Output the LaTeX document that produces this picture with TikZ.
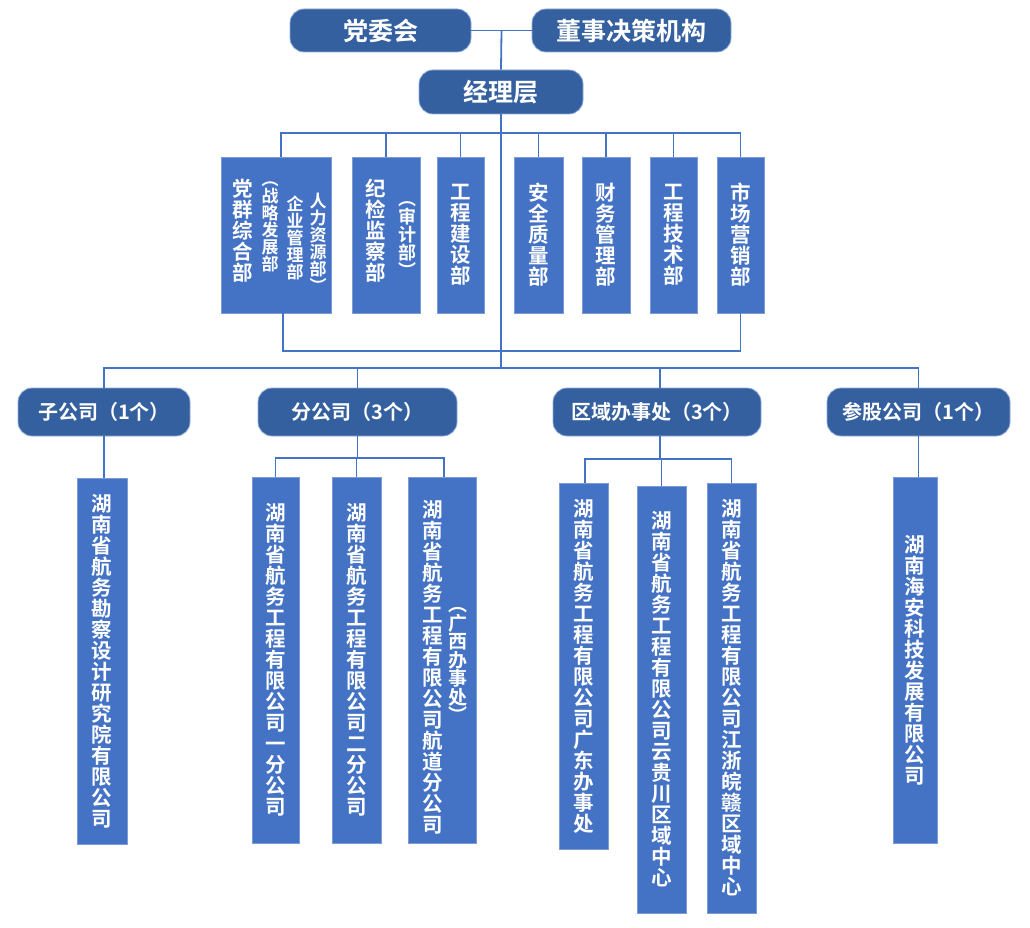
\documentclass[tikz,border=0pt]{standalone}
\usepackage{fontspec}
\setmainfont{Noto Sans CJK SC}[BoldFont={Noto Sans CJK SC Bold}]
\usetikzlibrary{positioning,calc}
\definecolor{navy}{HTML}{35609F}
\definecolor{boxblue}{HTML}{4472C4}

% one character per line, #1 size, #2 pitch
\makeatletter
\newcommand\vcol[3]{\vbox{\fontsize{#1}{#2}\selectfont\baselineskip=#2pt\lineskiplimit=-100pt\lineskip=0pt%
  \@tfor\vch:=#3\do{\hbox to #1pt{\hss\vch\hss}}}}
\makeatother

\begin{document}
\begin{tikzpicture}[x=1pt,y=1pt,
  headbox/.style={fill=navy, draw=boxblue!60!white, line width=0.8pt, rounded corners=14pt, text=white, font=\bfseries\fontsize{25}{28}\selectfont, inner sep=0pt},
  groupbox/.style={headbox, font=\bfseries\fontsize{20}{23}\selectfont, minimum height=48},
  unitbox/.style={fill=boxblue, draw=boxblue!70!white, line width=0.6pt, text=white, font=\bfseries, inner sep=0pt},
  vtxt/.style={text=white, font=\bfseries, inner sep=0pt},
  link/.style={draw=boxblue, line width=1.8pt}
]
\useasboundingbox (0,0) rectangle (1030,-928);

% top level
\node[headbox, minimum width=181, minimum height=43] (dw)  at (380.5,-30.5) {党委会};
\node[headbox, minimum width=199, minimum height=43] (dsh) at (631.5,-30.5) {董事决策机构};
\node[headbox, minimum width=164, minimum height=44] (jl)  at (501,-92) {经理层};
\coordinate (top) at ($(dw.east)!0.5!(dsh.west)$);
\coordinate (bar) at (501,-368);
\draw[link] (dw.east) -- (dsh.west);
\draw[link] (top) -- (jl.north);
\draw[link] (jl.south) -- (bar);

% departments
\node[unitbox, minimum width=110, minimum height=156] (d1) at (276,-235) {};
\node[vtxt] (d1a) at (243,-231) {\vcol{20.5}{21}{党群综合部}};
\node[vtxt, anchor=north] (d1b) at (270,-182) {\vcol{17}{17}{︵战略发展部}};
\node[vtxt, anchor=north] (d1c) at (295,-196) {\vcol{17}{17}{企业管理部}};
\node[vtxt, anchor=north] (d1d) at (318,-193) {\vcol{17}{17}{人力资源部︶}};
\node[unitbox, minimum width=68, minimum height=156] (d2) at (386,-235) {};
\node[vtxt] (d2a) at (376,-231) {\vcol{20.5}{21}{纪检监察部}};
\node[vtxt] (d2b) at (407,-240) {\vcol{18}{18}{︵审计部︶}};
\node[unitbox, minimum width=47, minimum height=156] (d3) at (460.5,-235) {\vcol{20.5}{21}{工程建设部}};
\node[unitbox, minimum width=49, minimum height=156] (d4) at (538.5,-235) {\vcol{20.5}{21}{安全质量部}};
\node[unitbox, minimum width=48, minimum height=156] (d5) at (606,-235) {\vcol{20.5}{21}{财务管理部}};
\node[unitbox, minimum width=47, minimum height=156] (d6) at (673.5,-235) {\vcol{20.5}{21}{工程技术部}};
\node[unitbox, minimum width=47, minimum height=156] (d7) at (740.5,-235) {\vcol{20.5}{21}{市场营销部}};
\draw[link] ([xshift=5]d1.north) -- ++(0,24) -| (d7.north);
\foreach \d in {d2,d3,d4,d5,d6}
  \draw[link] (\d.north) -- ++(0,24);
\draw[link] ([xshift=7]d1.south) -- ++(0,-38) -| (d7.south);

% groups
\node[groupbox, minimum width=172] (g1) at (104,-412)   {子公司（1个）};
\node[groupbox, minimum width=199] (g2) at (357.5,-412) {分公司（3个）};
\node[groupbox, minimum width=208] (g3) at (657,-412)   {区域办事处（3个）};
\node[groupbox, minimum width=183] (g4) at (918.5,-412) {参股公司（1个）};
\draw[link] (g1.north) -- ++(0,20) -| (g4.north);
\draw[link] (g2.north) -- ++(0,20);
\draw[link] ([xshift=3]g3.north) -- ++(0,20);

% companies
\node[unitbox, minimum width=50, minimum height=366] (s1) at (102,-661) {\vcol{20.5}{21}{湖南省航务勘察设计研究院有限公司}};
\draw[link] (g1.south) -- (g1.south |- s1.north);

\node[unitbox, minimum width=47, minimum height=366] (s2) at (275.5,-660) {\vcol{20.5}{21}{湖南省航务工程有限公司一分公司}};
\node[unitbox, minimum width=49, minimum height=366] (s3) at (356.5,-660) {\vcol{20.5}{21}{湖南省航务工程有限公司二分公司}};
\node[unitbox, minimum width=68, minimum height=366] (s4) at (442,-660) {};
\node[vtxt] (s4a) at (433,-667) {\vcol{20.5}{21}{湖南省航务工程有限公司航道分公司}};
\node[vtxt] (s4b) at (458,-665) {\vcol{19}{18.5}{︵广西办事处︶}};
\draw[link] (g2.south) -- ++(0,-22);
\draw[link] (s2.north) -- ++(0,19) -| ([xshift=2]s4.north);
\draw[link] (s3.north) -- ++(0,19);

\node[unitbox, minimum width=49, minimum height=366] (s5) at (583.5,-666) {\vcol{20.5}{21}{湖南省航务工程有限公司广东办事处}};
\node[unitbox, minimum width=49, minimum height=427] (s6) at (661.5,-699.5) {\vcol{20.5}{21}{湖南省航务工程有限公司云贵川区域中心}};
\node[unitbox, minimum width=49, minimum height=430] (s7) at (731.5,-698) {\vcol{20.5}{21}{湖南省航务工程有限公司江浙皖赣区域中心}};
\draw[link] ([xshift=3]g3.south) -- ++(0,-23);
\draw[link] ([xshift=1.5]s5.north) -- ++(0,24) -| (s7.north);
\draw[link] (s6.north) -- ++(0,27);

\node[unitbox, minimum width=44, minimum height=366] (s8) at (915,-660) {\vcol{20.5}{21}{湖南海安科技发展有限公司}};
\draw[link] (g4.south) -- (g4.south |- s8.north);
\end{tikzpicture}
\end{document}
